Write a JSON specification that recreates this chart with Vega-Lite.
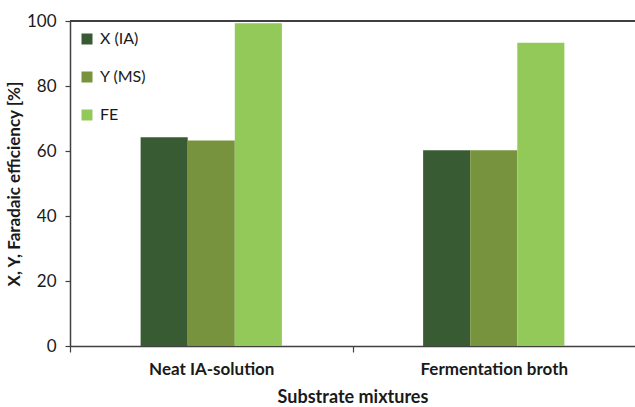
{
  "$schema": "https://vega.github.io/schema/vega-lite/v6.json",
  "width": 565,
  "height": 325,
  "autosize": "none",
  "padding": {"left": 70, "top": 21, "right": 0, "bottom": 61},
  "background": "white",
  "config": {
    "font": "Lato",
    "view": {"stroke": null},
    "axis": {"grid": false, "domainColor": "#404040", "tickColor": "#404040", "domainWidth": 1.5, "tickWidth": 1.2, "labelColor": "#1a1a1a", "titleColor": "#1a1a1a"}
  },
  "data": {
    "values": [
      {"mixture": "Neat IA-solution", "series": "X (IA)", "value": 64.2},
      {"mixture": "Neat IA-solution", "series": "Y (MS)", "value": 63.2},
      {"mixture": "Neat IA-solution", "series": "FE", "value": 99.3},
      {"mixture": "Fermentation broth", "series": "X (IA)", "value": 60.2},
      {"mixture": "Fermentation broth", "series": "Y (MS)", "value": 60.2},
      {"mixture": "Fermentation broth", "series": "FE", "value": 93.3}
    ]
  },
  "layer": [
    {
      "mark": {"type": "bar"},
      "encoding": {
        "x": {
          "field": "mixture", "type": "nominal", "sort": ["Neat IA-solution", "Fermentation broth"],
          "scale": {"paddingInner": 0.5, "paddingOuter": 0.25},
          "axis": {"title": "Substrate mixtures", "labelAngle": 0, "labelFontSize": 17, "labelFontWeight": "bold", "tickOffset": -141.25, "labelOffset": 141.25, "tickSize": 6, "labelPadding": 9, "titleFontSize": 18, "titleFontWeight": "bold", "titlePadding": 11}
        },
        "xOffset": {
          "field": "series", "type": "nominal", "sort": ["X (IA)", "Y (MS)", "FE"],
          "scale": {"paddingInner": 0, "paddingOuter": 0}
        },
        "y": {
          "field": "value", "type": "quantitative",
          "scale": {"domain": [0, 100], "nice": false},
          "axis": {"title": "X, Y, Faradaic efficiency [%]", "values": [0, 20, 40, 60, 80, 100], "labelFontSize": 17, "tickSize": 5, "labelPadding": 9, "titleFontSize": 17, "titleFontWeight": "bold", "titlePadding": 3}
        },
        "color": {
          "field": "series", "type": "nominal", "sort": ["X (IA)", "Y (MS)", "FE"],
          "scale": {"domain": ["X (IA)", "Y (MS)", "FE"], "range": ["#385B33", "#78933D", "#93C958"]},
          "legend": {"title": null, "orient": "none", "legendX": 9, "legendY": 10, "symbolType": "square", "symbolSize": 121, "symbolStrokeWidth": 0, "labelFontSize": 16, "labelColor": "#1a1a1a", "rowPadding": 22, "labelOffset": 5}
        }
      }
    },
    {
      "mark": {"type": "rule", "color": "#404040", "strokeWidth": 1.5},
      "encoding": {"y": {"datum": 100}}
    }
  ]
}
